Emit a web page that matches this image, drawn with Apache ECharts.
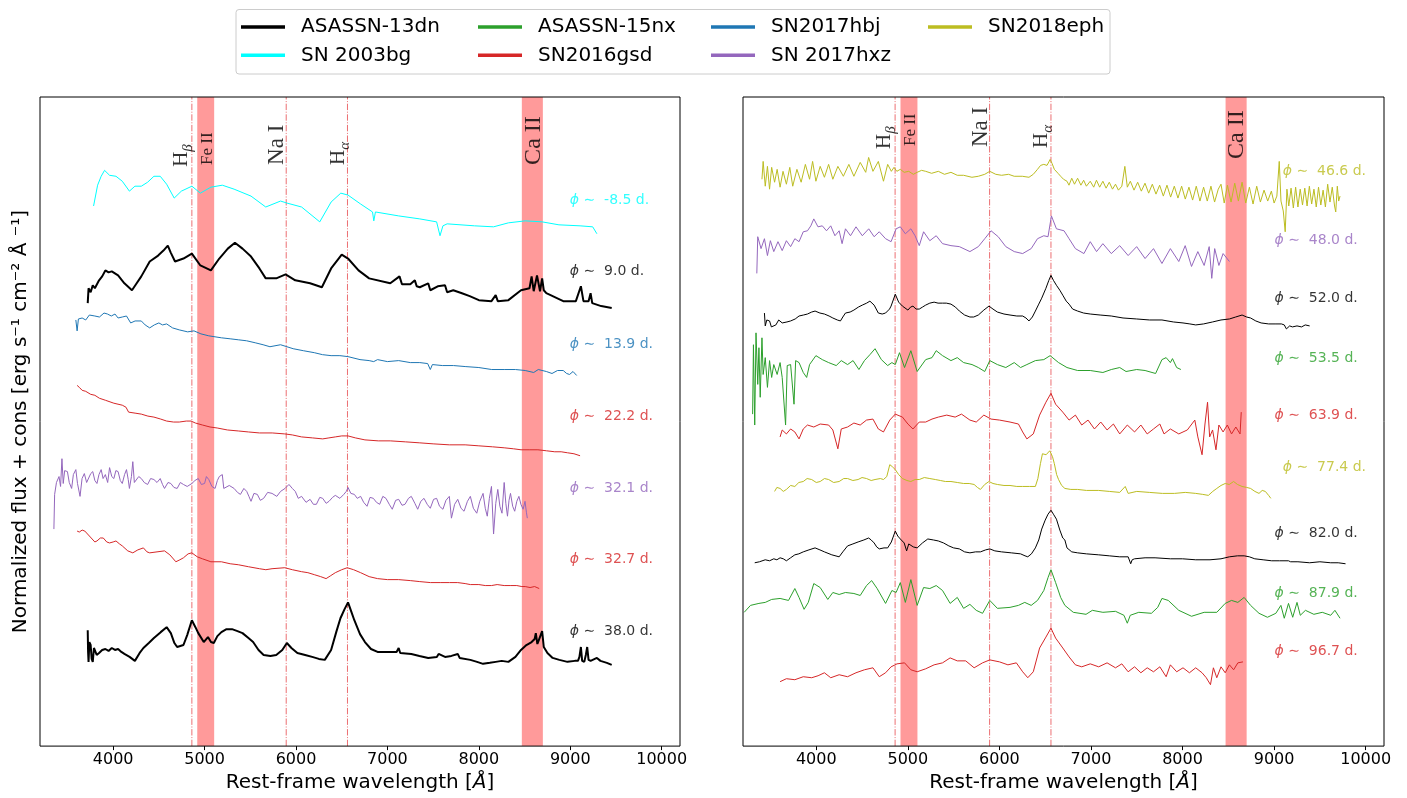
<!DOCTYPE html>
<html><head><meta charset="utf-8">
<script src="https://cdn.jsdelivr.net/npm/echarts@6/dist/echarts.min.js"></script>
<style>html,body{margin:0;padding:0;background:#fff}#c{width:1407px;height:798px}</style>
</head><body><div id="c"></div><script>
// ---------------- DATA (wavelength [Å], normalized flux + const) ----------------
const tickValues = [4000,5000,6000,7000,8000,9000,10000];
const lineWl = [4861, 5893, 6563];            // Hβ, Na I, Hα
const bandWl = [[4920,5105],[8470,8700]];      // Fe II, Ca II
const annText = ['{m|H}{s|β}','Fe II','Na I','{m|H}{s|α}','Ca II'];
const annX = [4752, 5033, 5800, 6470, 8602];
const annYLeft = [5.84, 5.86, 5.86, 5.86, 5.86];
const annYRight = [6.02, 6.05, 6.04, 6.03, 5.92];

// Left panel
const L_03bg_m85 = [[3786,5.45],[3830,5.66],[3869,5.75],[3906,5.81],[3961,5.76],[4031,5.75],[4100,5.70],[4178,5.60],[4238,5.65],[4308,5.65],[4377,5.69],[4446,5.75],[4515,5.75],[4585,5.67],[4668,5.53],[4746,5.60],[4861,5.65],[4954,5.58],[5069,5.64],[5194,5.66],[5323,5.62],[5508,5.55],[5669,5.44],[5831,5.50],[5900,5.48],[6061,5.44],[6260,5.29],[6384,5.49],[6490,5.58],[6569,5.56],[6707,5.47],[6837,5.39],[6851,5.30],[6869,5.39],[7123,5.35],[7354,5.32],[7538,5.29],[7575,5.15],[7607,5.25],[7653,5.27],[7953,5.25],[8161,5.24],[8323,5.28],[8507,5.30],[8692,5.29],[8876,5.26],[9107,5.25],[9245,5.24],[9291,5.17]];
const L_13dn_9 = [[3722,4.47],[3731,4.62],[3754,4.58],[3777,4.65],[3800,4.62],[3846,4.70],[3880,4.74],[3915,4.80],[3950,4.78],[3985,4.79],[4054,4.75],[4123,4.67],[4206,4.60],[4250,4.66],[4308,4.74],[4400,4.89],[4492,4.95],[4550,5.00],[4598,5.05],[4630,4.98],[4677,4.89],[4769,4.92],[4861,4.97],[4954,4.85],[5069,4.80],[5161,4.92],[5254,5.02],[5332,5.08],[5415,5.02],[5508,4.94],[5600,4.82],[5669,4.72],[5784,4.72],[5886,4.76],[5992,4.70],[6154,4.67],[6283,4.63],[6384,4.82],[6500,4.96],[6569,4.92],[6684,4.80],[6800,4.72],[7031,4.67],[7132,4.74],[7159,4.66],[7250,4.66],[7300,4.70],[7320,4.64],[7354,4.63],[7446,4.67],[7469,4.60],[7550,4.64],[7630,4.65],[7653,4.58],[7720,4.60],[7815,4.57],[7900,4.54],[8000,4.50],[8138,4.49],[8184,4.55],[8207,4.49],[8323,4.50],[8461,4.60],[8554,4.62],[8577,4.74],[8600,4.59],[8636,4.75],[8669,4.59],[8692,4.72],[8710,4.60],[8738,4.57],[8923,4.49],[9061,4.49],[9116,4.64],[9144,4.49],[9200,4.49],[9222,4.57],[9240,4.47],[9338,4.44],[9453,4.42]];
const L_17hbj_139 = [[3592,4.30],[3606,4.19],[3620,4.31],[3661,4.32],[3700,4.30],[3740,4.35],[3800,4.34],[3850,4.33],[3900,4.37],[3938,4.36],[3980,4.34],[4020,4.36],[4054,4.32],[4100,4.33],[4146,4.34],[4192,4.27],[4240,4.29],[4308,4.29],[4350,4.25],[4400,4.22],[4450,4.25],[4500,4.27],[4540,4.25],[4585,4.26],[4650,4.22],[4723,4.20],[4815,4.18],[4884,4.19],[4960,4.16],[5046,4.14],[5184,4.12],[5280,4.11],[5369,4.10],[5460,4.09],[5554,4.07],[5640,4.05],[5715,4.03],[5831,4.05],[5969,4.01],[6080,3.99],[6200,3.97],[6290,3.95],[6384,3.94],[6480,3.94],[6569,3.93],[6700,3.90],[6800,3.89],[6850,3.88],[6892,3.90],[7000,3.88],[7123,3.89],[7250,3.87],[7354,3.87],[7440,3.86],[7469,3.80],[7492,3.85],[7600,3.84],[7723,3.84],[7850,3.83],[8000,3.82],[8140,3.80],[8277,3.80],[8400,3.80],[8507,3.79],[8600,3.77],[8650,3.80],[8738,3.78],[8800,3.76],[8860,3.79],[8923,3.79],[8960,3.76],[8992,3.75],[9030,3.78],[9070,3.74]];
const L_16gsd_222 = [[3606,3.64],[3630,3.62],[3661,3.59],[3700,3.58],[3754,3.55],[3800,3.54],[3850,3.51],[3915,3.49],[4008,3.46],[4100,3.44],[4140,3.42],[4169,3.37],[4240,3.36],[4308,3.35],[4380,3.33],[4446,3.32],[4520,3.30],[4585,3.28],[4660,3.27],[4723,3.27],[4800,3.28],[4852,3.28],[4900,3.26],[4977,3.24],[5060,3.22],[5138,3.21],[5250,3.19],[5369,3.18],[5480,3.17],[5600,3.16],[5740,3.16],[5877,3.15],[5960,3.14],[6061,3.12],[6180,3.11],[6292,3.10],[6360,3.11],[6430,3.12],[6500,3.13],[6569,3.13],[6650,3.11],[6754,3.09],[6900,3.08],[7031,3.08],[7200,3.07],[7354,3.06],[7500,3.05],[7677,3.04],[7850,3.04],[8000,3.03],[8150,3.02],[8277,3.01],[8380,3.00],[8461,2.99],[8550,2.99],[8646,2.99],[8740,2.98],[8830,2.97],[8900,2.97],[8969,2.96],[9040,2.95],[9107,2.93]];
const L_17hxz_321 = [[3352,2.19],[3360,2.54],[3380,2.66],[3408,2.72],[3425,2.62],[3440,2.90],[3454,2.65],[3470,2.78],[3500,2.77],[3520,2.66],[3546,2.60],[3565,2.74],[3592,2.79],[3610,2.65],[3638,2.52],[3660,2.70],[3685,2.75],[3710,2.66],[3731,2.64],[3755,2.75],[3777,2.77],[3800,2.68],[3823,2.65],[3845,2.74],[3869,2.79],[3890,2.70],[3915,2.74],[3940,2.66],[3961,2.81],[3985,2.72],[4008,2.70],[4030,2.78],[4054,2.77],[4078,2.68],[4100,2.65],[4125,2.74],[4146,2.79],[4165,2.69],[4178,2.60],[4200,2.72],[4215,2.87],[4232,2.66],[4252,2.67],[4280,2.72],[4308,2.70],[4340,2.66],[4377,2.64],[4410,2.70],[4446,2.69],[4480,2.66],[4515,2.70],[4540,2.64],[4562,2.60],[4600,2.66],[4631,2.65],[4665,2.61],[4700,2.60],[4735,2.66],[4769,2.64],[4810,2.62],[4861,2.65],[4895,2.68],[4931,2.70],[4965,2.64],[5000,2.65],[5020,2.72],[5046,2.69],[5080,2.62],[5115,2.60],[5140,2.68],[5161,2.72],[5194,2.74],[5210,2.60],[5231,2.59],[5270,2.63],[5323,2.60],[5360,2.56],[5392,2.54],[5430,2.60],[5461,2.57],[5485,2.52],[5508,2.47],[5540,2.55],[5577,2.54],[5610,2.48],[5646,2.50],[5690,2.56],[5738,2.55],[5790,2.52],[5831,2.57],[5880,2.60],[5923,2.64],[5960,2.60],[5992,2.57],[6025,2.50],[6061,2.52],[6110,2.46],[6154,2.49],[6190,2.44],[6223,2.44],[6260,2.51],[6292,2.50],[6330,2.45],[6361,2.47],[6400,2.51],[6430,2.53],[6480,2.50],[6523,2.54],[6550,2.57],[6569,2.61],[6600,2.55],[6638,2.54],[6670,2.50],[6707,2.52],[6740,2.46],[6777,2.42],[6810,2.51],[6846,2.50],[6880,2.46],[6915,2.44],[6950,2.52],[6984,2.50],[7020,2.44],[7053,2.39],[7090,2.48],[7123,2.49],[7160,2.43],[7192,2.44],[7230,2.50],[7261,2.52],[7300,2.45],[7331,2.39],[7365,2.47],[7400,2.50],[7435,2.44],[7469,2.40],[7505,2.49],[7538,2.50],[7570,2.42],[7607,2.39],[7640,2.48],[7677,2.52],[7700,2.30],[7735,2.44],[7769,2.49],[7805,2.40],[7838,2.37],[7875,2.47],[7907,2.52],[7940,2.40],[7977,2.35],[8010,2.47],[8046,2.55],[8070,2.40],[8092,2.32],[8115,2.50],[8138,2.62],[8161,2.14],[8185,2.45],[8207,2.59],[8230,2.42],[8253,2.35],[8277,2.66],[8295,2.45],[8313,2.32],[8330,2.48],[8346,2.55],[8370,2.42],[8392,2.37],[8415,2.47],[8438,2.52],[8460,2.44],[8484,2.39],[8505,2.47],[8520,2.36],[8530,2.30]];
const L_16gsd_327 = [[3606,2.17],[3630,2.16],[3661,2.18],[3690,2.17],[3708,2.15],[3760,2.10],[3800,2.06],[3823,2.07],[3860,2.10],[3892,2.10],[3930,2.06],[3961,2.05],[4000,2.06],[4031,2.07],[4070,2.04],[4100,2.02],[4160,1.97],[4215,1.95],[4270,1.98],[4331,2.00],[4370,1.96],[4400,1.95],[4480,1.96],[4562,1.97],[4620,1.93],[4686,1.86],[4730,1.88],[4769,1.90],[4820,1.94],[4861,1.95],[4920,1.91],[4977,1.89],[5069,1.86],[5184,1.86],[5280,1.84],[5369,1.83],[5480,1.81],[5600,1.79],[5670,1.78],[5738,1.79],[5877,1.80],[5960,1.78],[6061,1.76],[6130,1.75],[6200,1.73],[6270,1.71],[6329,1.69],[6380,1.72],[6430,1.75],[6500,1.78],[6560,1.80],[6630,1.78],[6707,1.75],[6800,1.71],[6892,1.69],[7000,1.68],[7123,1.68],[7250,1.67],[7354,1.66],[7470,1.65],[7584,1.65],[7680,1.65],[7769,1.65],[7850,1.64],[7907,1.63],[8000,1.63],[8070,1.62],[8138,1.62],[8200,1.63],[8277,1.62],[8350,1.62],[8415,1.62],[8470,1.61],[8507,1.61],[8560,1.60],[8610,1.61],[8660,1.59]];
const L_13dn_38 = [[3722,1.17],[3726,0.95],[3731,0.85],[3740,1.05],[3754,1.02],[3765,0.88],[3777,0.85],[3790,0.99],[3800,0.98],[3820,0.92],[3846,0.94],[3880,0.97],[3915,0.98],[3950,0.96],[3985,0.99],[4020,0.97],[4054,0.98],[4090,0.95],[4123,0.93],[4180,0.90],[4238,0.86],[4290,0.94],[4331,0.99],[4390,1.04],[4446,1.09],[4520,1.15],[4585,1.20],[4631,1.14],[4670,1.04],[4700,1.00],[4769,1.02],[4810,1.12],[4861,1.27],[4900,1.20],[4931,1.14],[4991,1.05],[5037,1.10],[5070,1.05],[5101,1.04],[5140,1.11],[5184,1.15],[5240,1.18],[5300,1.18],[5360,1.16],[5415,1.14],[5480,1.09],[5531,1.05],[5590,0.97],[5646,0.92],[5720,0.91],[5784,0.92],[5850,0.97],[5900,1.04],[5950,0.99],[6015,0.94],[6100,0.92],[6177,0.90],[6250,0.88],[6315,0.87],[6384,0.97],[6440,1.15],[6486,1.29],[6530,1.38],[6569,1.45],[6600,1.37],[6638,1.27],[6700,1.13],[6754,1.05],[6820,0.98],[6892,0.95],[7000,0.95],[7100,0.95],[7123,0.99],[7140,0.94],[7261,0.93],[7350,0.91],[7446,0.89],[7540,0.90],[7560,0.93],[7630,0.90],[7700,0.91],[7769,0.93],[7790,0.89],[7907,0.87],[7980,0.85],[8046,0.83],[8120,0.84],[8184,0.85],[8250,0.86],[8323,0.85],[8400,0.90],[8461,0.97],[8520,1.02],[8577,1.05],[8610,1.08],[8623,1.14],[8640,1.03],[8660,1.08],[8692,1.16],[8710,1.00],[8750,0.94],[8807,0.89],[8880,0.87],[8969,0.85],[9050,0.86],[9084,0.86],[9100,0.90],[9116,1.00],[9130,0.86],[9153,0.85],[9170,0.92],[9185,1.00],[9200,0.87],[9222,0.86],[9291,0.89],[9330,0.86],[9400,0.84],[9453,0.82]];

// Right panel
const R_18eph_466 = [[3407,5.72],[3420,5.90],[3443,5.65],[3467,5.85],[3490,5.62],[3513,5.84],[3545,5.69],[3573,5.82],[3605,5.64],[3637,5.80],[3674,5.67],[3711,5.84],[3743,5.65],[3789,5.82],[3835,5.69],[3881,5.87],[3927,5.72],[3960,5.90],[3996,5.70],[4043,5.85],[4089,5.74],[4135,5.87],[4181,5.72],[4236,5.85],[4296,5.75],[4356,5.87],[4411,5.75],[4480,5.89],[4540,5.79],[4572,5.94],[4619,5.80],[4678,5.90],[4734,5.70],[4780,5.87],[4820,5.80],[4849,5.84],[4880,5.80],[4918,5.82],[4960,5.79],[5010,5.80],[5060,5.77],[5102,5.79],[5150,5.81],[5195,5.80],[5260,5.78],[5333,5.80],[5400,5.77],[5471,5.79],[5540,5.76],[5609,5.76],[5700,5.74],[5770,5.75],[5840,5.77],[5895,5.80],[5960,5.77],[6024,5.76],[6100,5.77],[6162,5.75],[6250,5.75],[6323,5.74],[6370,5.77],[6416,5.82],[6450,5.86],[6485,5.87],[6520,5.86],[6554,5.92],[6575,5.88],[6600,5.82],[6640,5.78],[6669,5.75],[6700,5.72],[6738,5.70],[6760,5.66],[6790,5.73],[6820,5.67],[6854,5.73],[6890,5.66],[6920,5.71],[6950,5.65],[6992,5.70],[7030,5.64],[7060,5.71],[7095,5.64],[7130,5.70],[7165,5.63],[7200,5.69],[7235,5.62],[7268,5.67],[7300,5.61],[7337,5.65],[7370,5.85],[7397,5.64],[7430,5.70],[7470,5.61],[7510,5.69],[7550,5.60],[7590,5.68],[7630,5.58],[7670,5.67],[7710,5.57],[7750,5.66],[7790,5.55],[7830,5.66],[7870,5.54],[7910,5.65],[7950,5.53],[7990,5.65],[8030,5.52],[8070,5.64],[8110,5.51],[8150,5.65],[8190,5.50],[8230,5.64],[8270,5.50],[8310,5.65],[8350,5.49],[8390,5.62],[8420,5.67],[8455,5.48],[8490,5.66],[8530,5.49],[8570,5.68],[8610,5.50],[8650,5.69],[8690,5.48],[8730,5.64],[8770,5.47],[8810,5.65],[8850,5.49],[8890,5.61],[8930,5.50],[8970,5.60],[9000,5.48],[9030,5.55],[9056,5.90],[9075,5.50],[9100,5.40],[9121,5.19],[9140,5.62],[9160,5.45],[9185,5.63],[9210,5.43],[9235,5.64],[9260,5.44],[9285,5.62],[9310,5.46],[9335,5.63],[9360,5.45],[9385,5.65],[9410,5.47],[9435,5.62],[9460,5.44],[9485,5.64],[9510,5.46],[9535,5.61],[9560,5.44],[9585,5.67],[9610,5.49],[9635,5.64],[9660,5.45],[9673,5.39],[9690,5.65],[9705,5.50],[9720,5.55]];
const R_17hxz_48 = [[3351,4.77],[3361,5.14],[3397,5.02],[3434,5.12],[3467,4.95],[3499,5.10],[3536,4.99],[3582,5.09],[3628,5.00],[3674,5.10],[3720,5.04],[3766,5.12],[3812,5.09],[3858,5.19],[3904,5.20],[3941,5.25],[3973,5.32],[4019,5.24],[4066,5.25],[4112,5.20],[4158,5.25],[4204,5.15],[4250,5.20],[4282,5.07],[4319,5.22],[4374,5.15],[4434,5.24],[4503,5.15],[4573,5.22],[4632,5.14],[4688,5.19],[4757,5.12],[4817,5.09],[4872,5.22],[4918,5.24],[4973,5.17],[5033,5.22],[5079,5.15],[5125,5.05],[5172,5.19],[5240,5.10],[5310,5.15],[5379,5.07],[5471,5.05],[5563,5.04],[5678,4.99],[5770,5.04],[5840,5.12],[5909,5.20],[5987,5.14],[6070,5.04],[6162,4.99],[6254,4.97],[6347,5.02],[6416,5.12],[6485,5.15],[6531,5.14],[6568,5.35],[6623,5.22],[6706,5.20],[6761,5.12],[6830,5.02],[6923,4.97],[6992,5.09],[7061,4.99],[7130,5.07],[7222,4.97],[7314,5.05],[7406,4.95],[7499,5.04],[7591,4.92],[7683,5.02],[7775,4.87],[7867,5.02],[7959,4.89],[8029,5.05],[8098,4.84],[8167,4.99],[8236,4.85],[8291,5.04],[8319,4.72],[8351,5.02],[8397,4.85],[8443,4.97],[8512,4.89]];
const R_13dn_52 = [[3434,4.37],[3443,4.24],[3460,4.30],[3490,4.29],[3510,4.23],[3559,4.25],[3590,4.30],[3628,4.27],[3680,4.28],[3720,4.29],[3770,4.31],[3812,4.34],[3860,4.35],[3904,4.36],[3950,4.38],[3987,4.39],[4040,4.37],[4089,4.36],[4140,4.34],[4181,4.32],[4230,4.30],[4264,4.29],[4290,4.33],[4319,4.37],[4370,4.38],[4411,4.40],[4460,4.43],[4503,4.45],[4550,4.47],[4586,4.49],[4632,4.45],[4678,4.37],[4720,4.36],[4757,4.37],[4800,4.41],[4817,4.44],[4863,4.56],[4900,4.48],[4941,4.44],[5001,4.40],[5030,4.43],[5056,4.44],[5090,4.41],[5125,4.41],[5160,4.43],[5195,4.45],[5240,4.47],[5287,4.48],[5330,4.47],[5379,4.47],[5420,4.47],[5471,4.46],[5520,4.43],[5563,4.39],[5620,4.35],[5678,4.33],[5720,4.33],[5770,4.35],[5830,4.40],[5886,4.44],[5930,4.41],[5978,4.38],[6050,4.36],[6116,4.35],[6190,4.34],[6254,4.34],[6290,4.32],[6323,4.29],[6360,4.33],[6393,4.39],[6430,4.46],[6462,4.52],[6508,4.62],[6540,4.70],[6563,4.75],[6590,4.70],[6623,4.65],[6660,4.60],[6692,4.55],[6730,4.49],[6761,4.46],[6800,4.41],[6854,4.39],[6920,4.37],[6992,4.36],[7100,4.35],[7222,4.34],[7350,4.32],[7499,4.31],[7640,4.30],[7775,4.30],[7900,4.28],[8005,4.27],[8080,4.26],[8144,4.25],[8230,4.26],[8328,4.28],[8420,4.30],[8512,4.31],[8580,4.33],[8650,4.35],[8700,4.33],[8743,4.32],[8800,4.29],[8858,4.27],[8940,4.26],[9020,4.26],[9080,4.26],[9111,4.25],[9134,4.21],[9170,4.24],[9200,4.23],[9250,4.24],[9300,4.23],[9340,4.25],[9388,4.24]];
const R_15nx_535 = [[3305,3.35],[3314,4.05],[3328,3.24],[3342,4.17],[3361,3.65],[3374,4.02],[3388,3.52],[3407,4.12],[3420,3.75],[3443,3.92],[3467,3.62],[3490,3.89],[3513,3.72],[3536,3.85],[3573,3.75],[3605,3.87],[3628,3.72],[3665,3.24],[3683,3.84],[3720,3.85],[3757,3.45],[3775,3.89],[3812,3.87],[3858,3.77],[3895,3.72],[3927,3.85],[3996,3.94],[4066,3.90],[4135,3.87],[4218,3.84],[4273,3.89],[4342,3.85],[4402,3.89],[4466,3.80],[4526,3.89],[4586,3.95],[4642,4.01],[4711,3.90],[4780,3.84],[4826,3.87],[4863,3.85],[4909,3.97],[4964,3.82],[5033,3.99],[5102,3.78],[5195,3.90],[5264,3.92],[5310,3.99],[5379,3.94],[5471,3.89],[5540,3.92],[5609,3.87],[5701,3.85],[5770,3.82],[5840,3.78],[5895,3.89],[5978,3.85],[6070,3.82],[6162,3.87],[6231,3.82],[6300,3.85],[6393,3.89],[6485,3.90],[6554,3.94],[6646,3.87],[6738,3.82],[6854,3.79],[6992,3.79],[7130,3.77],[7222,3.80],[7314,3.82],[7383,3.78],[7499,3.80],[7591,3.79],[7706,3.76],[7775,3.90],[7821,3.92],[7867,3.87],[7890,3.91],[7936,3.82],[7982,3.80]];
const R_16gsd_639 = [[3605,3.12],[3628,3.19],[3674,3.15],[3720,3.20],[3766,3.17],[3812,3.10],[3858,3.20],[3904,3.24],[3973,3.22],[4043,3.25],[4135,3.24],[4181,3.19],[4236,3.00],[4273,3.20],[4342,3.22],[4411,3.26],[4480,3.24],[4549,3.29],[4619,3.30],[4678,3.20],[4734,3.17],[4803,3.29],[4863,3.35],[4941,3.32],[5001,3.25],[5056,3.20],[5125,3.27],[5195,3.27],[5264,3.30],[5333,3.32],[5425,3.34],[5517,3.32],[5586,3.35],[5678,3.29],[5747,3.27],[5830,3.34],[5909,3.30],[6001,3.29],[6116,3.27],[6208,3.25],[6254,3.17],[6300,3.10],[6370,3.15],[6439,3.34],[6508,3.47],[6563,3.56],[6614,3.45],[6692,3.37],[6761,3.29],[6830,3.34],[6899,3.24],[6968,3.29],[7038,3.20],[7107,3.27],[7176,3.19],[7245,3.25],[7314,3.15],[7397,3.24],[7476,3.17],[7545,3.24],[7614,3.15],[7683,3.20],[7752,3.25],[7798,3.15],[7867,3.20],[7959,3.15],[8052,3.19],[8134,3.29],[8167,3.12],[8213,2.94],[8245,3.25],[8273,3.47],[8296,3.12],[8328,3.19],[8365,2.99],[8397,3.24],[8443,3.17],[8489,3.24],[8535,3.15],[8582,3.22],[8628,3.15],[8641,3.37]];
const R_18eph_774 = [[3545,2.57],[3570,2.61],[3605,2.60],[3640,2.57],[3674,2.59],[3720,2.63],[3766,2.62],[3810,2.66],[3858,2.67],[3900,2.70],[3950,2.69],[4000,2.66],[4043,2.67],[4090,2.70],[4135,2.69],[4190,2.66],[4250,2.67],[4300,2.70],[4342,2.70],[4400,2.68],[4457,2.69],[4500,2.71],[4549,2.70],[4600,2.68],[4642,2.69],[4700,2.70],[4734,2.69],[4770,2.72],[4803,2.84],[4830,2.82],[4863,2.79],[4900,2.74],[4941,2.70],[4990,2.68],[5033,2.67],[5080,2.69],[5125,2.69],[5180,2.71],[5240,2.70],[5300,2.69],[5356,2.68],[5410,2.67],[5471,2.67],[5540,2.66],[5609,2.65],[5670,2.65],[5724,2.64],[5760,2.61],[5793,2.59],[5840,2.64],[5886,2.67],[5930,2.65],[5978,2.64],[6050,2.63],[6116,2.63],[6190,2.62],[6254,2.62],[6330,2.62],[6393,2.62],[6420,2.70],[6448,2.85],[6470,2.95],[6485,2.97],[6510,2.94],[6531,2.95],[6550,2.98],[6563,2.97],[6580,2.92],[6600,2.85],[6625,2.74],[6646,2.69],[6680,2.63],[6715,2.60],[6780,2.59],[6854,2.59],[6950,2.58],[7084,2.58],[7200,2.57],[7314,2.56],[7374,2.62],[7406,2.55],[7500,2.57],[7637,2.56],[7780,2.55],[7913,2.55],[8030,2.56],[8144,2.55],[8220,2.54],[8282,2.53],[8330,2.57],[8374,2.60],[8420,2.63],[8466,2.65],[8510,2.64],[8558,2.67],[8600,2.64],[8650,2.62],[8700,2.61],[8743,2.60],[8790,2.57],[8835,2.55],[8870,2.58],[8904,2.57],[8940,2.53],[8964,2.50]];
const R_13dn_82 = [[3328,1.85],[3380,1.86],[3443,1.88],[3490,1.87],[3536,1.89],[3570,1.88],[3605,1.90],[3640,1.89],[3674,1.87],[3720,1.90],[3766,1.93],[3810,1.94],[3858,1.96],[3920,1.98],[3987,2.00],[4040,1.98],[4089,1.96],[4170,1.93],[4250,1.91],[4290,1.96],[4342,2.02],[4400,2.04],[4457,2.06],[4520,2.08],[4572,2.10],[4600,2.08],[4632,2.05],[4660,2.01],[4688,1.99],[4740,2.00],[4780,2.00],[4820,2.06],[4863,2.17],[4890,2.12],[4918,2.09],[4960,2.05],[4987,1.97],[5010,2.04],[5060,2.01],[5102,2.00],[5160,2.05],[5218,2.09],[5280,2.08],[5333,2.07],[5390,2.05],[5448,2.02],[5500,2.00],[5563,1.99],[5620,1.96],[5678,1.95],[5740,1.96],[5793,1.96],[5850,1.98],[5895,1.99],[5950,1.97],[6024,1.96],[6130,1.95],[6231,1.94],[6280,1.92],[6310,1.91],[6350,1.94],[6393,2.00],[6430,2.08],[6462,2.19],[6500,2.28],[6531,2.34],[6563,2.38],[6590,2.34],[6623,2.29],[6660,2.18],[6692,2.10],[6715,2.08],[6738,2.00],[6790,1.96],[6854,1.95],[6950,1.94],[7084,1.93],[7200,1.92],[7314,1.91],[7406,1.91],[7420,1.90],[7434,1.84],[7450,1.88],[7476,1.89],[7591,1.90],[7700,1.90],[7867,1.89],[8000,1.89],[8144,1.88],[8300,1.88],[8420,1.89],[8512,1.91],[8600,1.92],[8673,1.92],[8730,1.91],[8789,1.89],[8880,1.88],[8973,1.87],[9060,1.87],[9157,1.87],[9170,1.89],[9180,1.86],[9260,1.86],[9388,1.85],[9500,1.86],[9618,1.85],[9700,1.85],[9780,1.84]];
const R_15nx_879 = [[3213,1.35],[3282,1.42],[3374,1.44],[3443,1.45],[3513,1.48],[3605,1.49],[3697,1.47],[3766,1.59],[3812,1.50],[3867,1.38],[3913,1.45],[3973,1.64],[4043,1.60],[4126,1.48],[4181,1.55],[4250,1.53],[4319,1.55],[4411,1.54],[4480,1.52],[4549,1.62],[4605,1.67],[4665,1.59],[4757,1.44],[4826,1.57],[4872,1.55],[4918,1.65],[4973,1.45],[5033,1.68],[5102,1.42],[5172,1.60],[5240,1.59],[5310,1.62],[5379,1.57],[5462,1.44],[5540,1.50],[5609,1.39],[5678,1.43],[5747,1.37],[5816,1.34],[5895,1.47],[5978,1.39],[6116,1.40],[6208,1.42],[6277,1.45],[6347,1.42],[6416,1.47],[6485,1.57],[6531,1.70],[6563,1.78],[6614,1.65],[6669,1.50],[6715,1.42],[6807,1.35],[6946,1.33],[7015,1.37],[7130,1.35],[7268,1.36],[7360,1.32],[7397,1.24],[7429,1.32],[7522,1.35],[7660,1.34],[7729,1.40],[7775,1.49],[7844,1.47],[7959,1.37],[8098,1.31],[8236,1.35],[8374,1.35],[8466,1.44],[8535,1.47],[8604,1.45],[8673,1.50],[8743,1.42],[8835,1.34],[8927,1.30],[9019,1.34],[9074,1.42],[9111,1.29],[9157,1.44],[9203,1.30],[9250,1.45],[9286,1.32],[9342,1.37],[9434,1.33],[9526,1.35],[9618,1.32],[9664,1.37],[9720,1.29]];
const R_16gsd_967 = [[3605,0.65],[3674,0.68],[3766,0.67],[3858,0.70],[3950,0.69],[4020,0.71],[4089,0.74],[4158,0.69],[4250,0.72],[4342,0.70],[4434,0.74],[4526,0.77],[4619,0.79],[4688,0.70],[4757,0.74],[4817,0.80],[4882,0.83],[4964,0.84],[5033,0.77],[5102,0.75],[5195,0.78],[5287,0.82],[5379,0.84],[5462,0.89],[5540,0.86],[5632,0.86],[5724,0.79],[5816,0.84],[5895,0.87],[6001,0.85],[6093,0.82],[6185,0.84],[6254,0.75],[6310,0.69],[6370,0.75],[6439,0.99],[6508,1.10],[6563,1.19],[6614,1.09],[6692,0.99],[6761,0.90],[6830,0.82],[6899,0.80],[6992,0.83],[7084,0.80],[7176,0.84],[7268,0.79],[7337,0.83],[7406,0.75],[7476,0.80],[7545,0.74],[7614,0.79],[7683,0.75],[7752,0.80],[7821,0.70],[7867,0.82],[7936,0.75],[8005,0.79],[8075,0.74],[8144,0.79],[8213,0.74],[8259,0.69],[8305,0.62],[8337,0.79],[8374,0.69],[8420,0.80],[8466,0.74],[8512,0.82],[8558,0.77],[8604,0.84],[8660,0.85]];

const colors = {'ASASSN-13dn':'#000000','ASASSN-15nx':'#2ca02c','SN2017hbj':'#1f77b4','SN2018eph':'#bcbd22',
  'SN 2003bg':'#00ffff','SN2016gsd':'#d62728','SN 2017hxz':'#9467bd'};

// spectrum list: object, data, panel, phase text, phase-label anchor (data coords)
const spectra = [
  {name:'SN 2003bg',  data:L_03bg_m85,  panel:0, phase:'-8.5', lx:9000, ly:5.50},
  {name:'ASASSN-13dn',data:L_13dn_9,    panel:0, phase:'9.0',  lx:9000, ly:4.79, lw:2},
  {name:'SN2017hbj',  data:L_17hbj_139, panel:0, phase:'13.9', lx:9000, ly:4.05},
  {name:'SN2016gsd',  data:L_16gsd_222, panel:0, phase:'22.2', lx:9000, ly:3.32},
  {name:'SN 2017hxz', data:L_17hxz_321, panel:0, phase:'32.1', lx:9000, ly:2.60},
  {name:'SN2016gsd',  data:L_16gsd_327, panel:0, phase:'32.7', lx:9000, ly:1.88},
  {name:'ASASSN-13dn',data:L_13dn_38,   panel:0, phase:'38.0', lx:9000, ly:1.15, lw:2},
  {name:'SN2018eph',  data:R_18eph_466, panel:1, phase:'46.6', lx:9100, ly:5.79},
  {name:'SN 2017hxz', data:R_17hxz_48,  panel:1, phase:'48.0', lx:9010, ly:5.10},
  {name:'ASASSN-13dn',data:R_13dn_52,   panel:1, phase:'52.0', lx:9010, ly:4.51},
  {name:'ASASSN-15nx',data:R_15nx_535,  panel:1, phase:'53.5', lx:9010, ly:3.91},
  {name:'SN2016gsd',  data:R_16gsd_639, panel:1, phase:'63.9', lx:9010, ly:3.33},
  {name:'SN2018eph',  data:R_18eph_774, panel:1, phase:'77.4', lx:9100, ly:2.81},
  {name:'ASASSN-13dn',data:R_13dn_82,   panel:1, phase:'82.0', lx:9010, ly:2.14},
  {name:'ASASSN-15nx',data:R_15nx_879,  panel:1, phase:'87.9', lx:9010, ly:1.54},
  {name:'SN2016gsd',  data:R_16gsd_967, panel:1, phase:'96.7', lx:9010, ly:0.95}
];
const legendCols = [['ASASSN-13dn','SN 2003bg'],['ASASSN-15nx','SN2016gsd'],['SN2017hbj','SN 2017hxz'],['SN2018eph']];
const legendLeft = [241, 478, 711, 928];

// ---------------- CHART ----------------
const chart = echarts.init(document.getElementById('c'), null, {renderer:'canvas'});
const FONT = 'DejaVu Sans';
const YMAX = 6.55;
const grids = [
  {left:40, top:97, width:640, height:655, show:true, borderColor:'#000', borderWidth:1, backgroundColor:'rgba(0,0,0,0)', z:10},
  {left:743, top:97, width:641, height:655, show:true, borderColor:'#000', borderWidth:1, backgroundColor:'rgba(0,0,0,0)', z:10}
];
const xAxes = [0,1].map(i => ({
  gridIndex:i, type:'value', min:3200, max:10200,
  axisLine:{show:false}, splitLine:{show:false},
  axisTick:{show:true, customValues:tickValues, length:4, lineStyle:{color:'#000', width:1}},
  axisLabel:{customValues:tickValues, fontSize:16, color:'#000', margin:6, fontFamily:FONT, formatter:(v) => String(v)},
  name:'Rest-frame wavelength [{i|Å}]', nameLocation:'middle', nameGap:25,
  nameTextStyle:{fontSize:20, color:'#000', fontFamily:FONT, rich:{i:{fontSize:20, fontStyle:'italic', fontFamily:FONT, color:'#000'}}}
}));
const yAxes = [0,1].map(i => ({
  gridIndex:i, type:'value', min:0, max:YMAX,
  axisLine:{show:false}, axisTick:{show:false}, axisLabel:{show:false}, splitLine:{show:false},
  name: i===0 ? 'Normalized flux + cons [erg s⁻¹ cm⁻² Å ⁻¹]' : '',
  nameLocation:'middle', nameGap:9, nameRotate:90,
  nameTextStyle:{fontSize:20, color:'#000', fontFamily:FONT}
}));

const series = [];
[0,1].forEach(p => {
  series.push({
    type:'line', xAxisIndex:p, yAxisIndex:p, data:[], silent:true, z:1,
    markArea:{silent:true, itemStyle:{color:'#ff9a9a', opacity:1}, data: bandWl.map(b => [{xAxis:b[0]},{xAxis:b[1]}])}
  });
  lineWl.forEach(l => {
    series.push({
      type:'line', xAxisIndex:p, yAxisIndex:p, data:[[l,0],[l,YMAX]], silent:true, z:2,
      showSymbol:false, symbol:'none',
      lineStyle:{color:'#ec6f72', width:1, type:[6.4,1.6,1,1.6]}, itemStyle:{color:'#ec6f72'}
    });
  });
});
spectra.forEach(s => {
  series.push({
    type:'line', name:s.name, xAxisIndex:s.panel, yAxisIndex:s.panel, data:s.data,
    showSymbol:false, symbol:'none', silent:true, z:3,
    lineStyle:{width:s.lw || 1, color:colors[s.name]}, itemStyle:{color:colors[s.name]}
  });
  series.push({
    type:'scatter', xAxisIndex:s.panel, yAxisIndex:s.panel, silent:true, z:5,
    symbolSize:1, itemStyle:{color:'rgba(0,0,0,0)'},
    data:[[s.lx, s.ly]],
    label:{show:true, position:[0,0], align:'left', verticalAlign:'middle',
      formatter:'{p|ϕ}{t| ∼  ' + s.phase + ' d.}',
      rich:{p:{fontStyle:'italic', fontSize:14, fontFamily:FONT, color:colors[s.name]},
            t:{fontSize:14, fontFamily:FONT, color:colors[s.name]}}}
  });
});
const annSizes = [21, 17, 23, 21, 24];
[0,1].forEach(p => {
  const ys = p === 0 ? annYLeft : annYRight;
  series.push({
    type:'scatter', xAxisIndex:p, yAxisIndex:p, silent:true, z:6, symbolSize:1,
    itemStyle:{color:'rgba(0,0,0,0)'},
    data: annText.map((t, k) => ({value:[annX[k], ys[k]], label:{formatter:t, fontSize:annSizes[k]}})),
    label:{show:true, position:[0,0], rotate:90, align:'left', verticalAlign:'middle',
      fontFamily:'Liberation Serif', color:'#000',
      rich:{m:{fontSize:21, fontFamily:'Liberation Serif', color:'#000'},
            s:{fontSize:15, fontFamily:'Liberation Serif', fontStyle:'italic', color:'#000', padding:[13,0,0,0]}}}
  });
});

const legends = legendCols.map((col, i) => ({
  orient:'vertical', left:legendLeft[i], top:16, padding:0, itemGap:6.3,
  itemWidth:44, itemHeight:3.5, icon:'rect', selectedMode:false, data:col,
  textStyle:{fontSize:20, fontFamily:FONT, color:'#000', lineHeight:22, padding:[0,0,0,11]}
}));

chart.setOption({
  animation:false,
  backgroundColor:'#fff',
  textStyle:{fontFamily:FONT},
  graphic:[{type:'rect', shape:{x:236, y:9.5, width:874, height:64.5, r:3}, style:{fill:'#fff', stroke:'#cccccc', lineWidth:1}, z:0, silent:true}],
  legend:legends,
  grid:grids, xAxis:xAxes, yAxis:yAxes, series:series
});
</script></body></html>
